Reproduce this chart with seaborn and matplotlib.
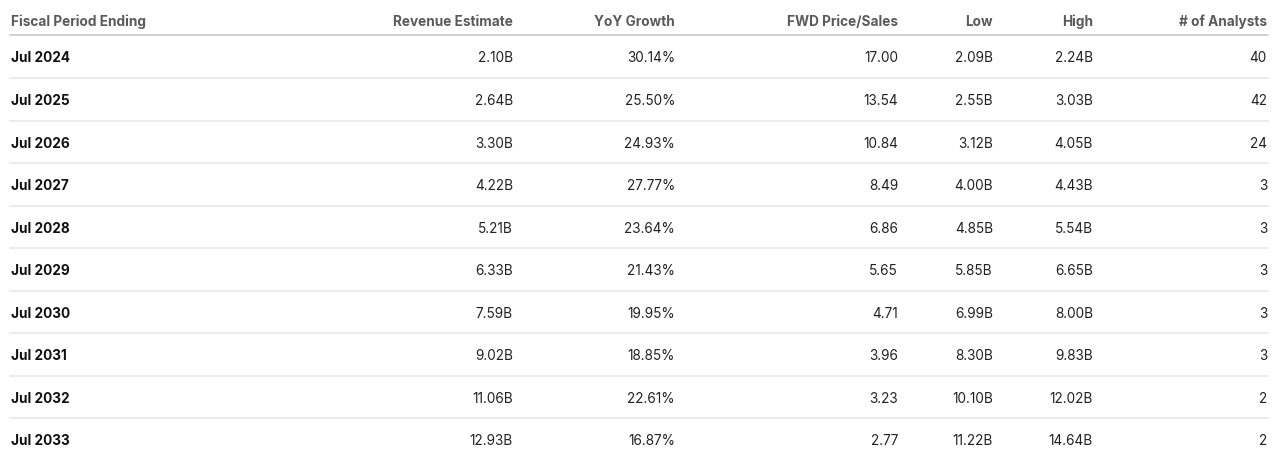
import matplotlib
matplotlib.use("Agg")
import matplotlib.pyplot as plt
import seaborn as sns

periods = ["Jul 2024", "Jul 2025", "Jul 2026", "Jul 2027", "Jul 2028",
           "Jul 2029", "Jul 2030", "Jul 2031", "Jul 2032", "Jul 2033"]
revenue_estimate = ["2.10B", "2.64B", "3.30B", "4.22B", "5.21B",
                    "6.33B", "7.59B", "9.02B", "11.06B", "12.93B"]
yoy_growth = ["30.14%", "25.50%", "24.93%", "27.77%", "23.64%",
              "21.43%", "19.95%", "18.85%", "22.61%", "16.87%"]
fwd_price_sales = ["17.00", "13.54", "10.84", "8.49", "6.86",
                   "5.65", "4.71", "3.96", "3.23", "2.77"]
low = ["2.09B", "2.55B", "3.12B", "4.00B", "4.85B",
       "5.85B", "6.99B", "8.30B", "10.10B", "11.22B"]
high = ["2.24B", "3.03B", "4.05B", "4.43B", "5.54B",
        "6.65B", "8.00B", "9.83B", "12.02B", "14.64B"]
num_analysts = ["40", "42", "24", "3", "3", "3", "3", "3", "2", "2"]
headers = ["Fiscal Period Ending", "Revenue Estimate", "YoY Growth",
           "FWD Price/Sales", "Low", "High", "# of Analysts"]

sns.set_theme(style="white")
plt.rcParams["font.family"] = ["Inter", "DejaVu Sans"]

W, H = 1280, 465
fig = plt.figure(figsize=(W / 100, H / 100), dpi=100)
ax = fig.add_axes([0, 0, 1, 1])
ax.set_xlim(0, W)
ax.set_ylim(H, 0)
ax.axis("off")

# layout (pixel-ish layout coords)
col_x = [11, 513, 675, 898, 993, 1093, 1267]
col_ha = ["left", "right", "right", "right", "right", "right", "right"]
header_y = 22
row_y0, row_dy = 58.5, 42.5
x_left, x_right = 10, 1268

for x, ha, h in zip(col_x, col_ha, headers):
    ax.text(x, header_y, h, ha=ha, va="center", fontsize=9.8,
            fontweight="bold", color="#5a5a5a")
ax.plot([x_left, x_right], [35.5, 35.5], color="#c8c8c8", lw=1.2)

columns = [periods, revenue_estimate, yoy_growth, fwd_price_sales, low, high, num_analysts]
n = len(periods)
for i in range(n):
    y = row_y0 + i * row_dy
    for j, (x, ha, col) in enumerate(zip(col_x, col_ha, columns)):
        ax.text(x, y, col[i], ha=ha, va="center", fontsize=9.8,
                fontweight="bold" if j == 0 else "normal",
                color="#111111" if j == 0 else "#222222")
    if i < n - 1:
        ly = row_y0 - 1.5 + i * row_dy + row_dy / 2
        ax.plot([x_left, x_right], [ly, ly], color="#ececec", lw=1.5)

fig.savefig("out.png", dpi=100, facecolor="white")
